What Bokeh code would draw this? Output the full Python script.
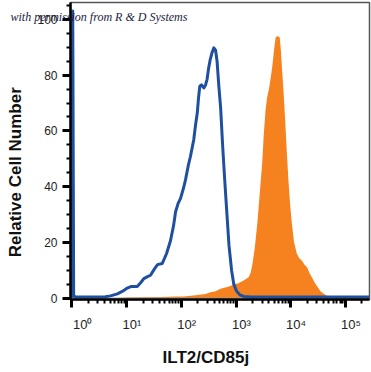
from bokeh.plotting import figure
from bokeh.models import FixedTicker, SingleIntervalTicker, Range1d, Title
from bokeh.embed import file_html
from bokeh.resources import INLINE

# ---- data ----
# control (blue line): fluorescence intensity and relative cell number
ctrl_x = [1.0, 1.04, 1.08, 1.15, 2.0, 4.1, 5.1, 6.8, 8.5, 10.3, 12.3, 15.7, 18.1, 20.7, 24.2,
          27.4, 32.4, 36.8, 44.8, 53.9, 63.5, 72.3, 78.7, 87.6, 97.0, 110, 119.7, 135.7,
          147, 169, 182, 196, 207, 218, 235, 258, 278, 296, 316, 338, 364, 394, 423, 451,
          486, 523, 569, 619, 673, 744, 830, 911, 1025, 1170, 1380, 1850, 270000]
ctrl_y = [0, 103, 1.0, 0.4, 0.4, 0.5, 0.8, 1.5, 2.5, 3.6, 4.2, 4.2, 5.5, 7.0, 7.7,
          8.2, 10.5, 12.0, 12.4, 16.0, 20.6, 26.0, 31.0, 34.0, 35.8, 39.5, 42.5, 48.0,
          50.8, 56.8, 62.0, 66.4, 72.0, 76.0, 76.5, 75.4, 76.5, 78.5, 82.5, 85.6, 88.0, 89.8, 89.0, 85.0,
          76.0, 68.5, 55.0, 43.0, 32.0, 19.0, 10.0, 5.0, 2.5, 1.2, 0.6, 0.4, 0.4]

# ILT2/CD85j stained (orange fill)
stain_x = [6.8, 10, 18, 42, 79, 110, 182, 278, 340, 423, 523, 642, 790, 900, 1100, 1380,
           1700, 1850, 2000, 2200, 2450, 2700, 3000, 3200, 3450, 3700, 4000, 4300, 4600,
           4950, 5300, 5750, 6300, 6600, 6900, 7400, 7900, 8450, 9100, 9800, 10500, 11500,
           12900, 14100, 15900, 17900, 20000, 22000, 25000, 27500, 31000, 35000, 40000,
           47000, 53000, 65000]
stain_y = [0, 0.2, 0.3, 0.4, 0.6, 0.6, 1.0, 1.5, 2.1, 2.5, 3.4, 3.8, 4.3, 4.9, 5.3, 6.3,
           7.5, 9.0, 12.3, 18.0, 26.7, 37.0, 48.0, 58.0, 67.0, 72.0, 75.0, 79.0, 83.0,
           89.0, 93.5, 94.0, 93.5, 89.0, 83.0, 74.0, 64.0, 53.0, 42.0, 33.0, 26.7, 20.0,
           16.0, 14.5, 13.5, 12.0, 11.0, 9.0, 7.0, 5.5, 4.0, 2.5, 1.6,
           0.8, 0.4, 0.0]

NB = "\u00a0"
x_major = [1, 10, 100, 1000, 10000, 100000]
x_labels = [NB * 6 + "10\u2070", NB * 3 + "10\u00b9", NB * 3 + "10\u00b2",
            NB * 3 + "10\u00b3", NB * 3 + "10\u2074", NB * 3 + "10\u2075"]

x_title = "ILT2/CD85j"
y_title = "Relative Cell Number"
credit = "with permission from R & D Systems"

BLUE = "#1f50a0"
ORANGE = "#f5821f"
FONT = "Liberation Sans"

p = figure(width=371, height=372, output_backend="svg", toolbar_location=None,
           x_axis_type="log",
           x_range=Range1d(0.946, 275000), y_range=Range1d(-0.5, 106.06),
           min_border_left=70, min_border_right=2, min_border_top=2, min_border_bottom=73)

p.background_fill_color = "white"
p.border_fill_color = "white"
p.outline_line_color = "#555555"
p.outline_line_width = 1.5
p.grid.visible = False

p.varea(x=stain_x, y1=[0] * len(stain_x), y2=stain_y, fill_color=ORANGE, fill_alpha=1.0)
p.line(x=[1, 275000], y=[0, 0], line_color="#9a9a9a", line_width=1)
p.line(x=ctrl_x, y=ctrl_y, line_color=BLUE, line_width=3, line_join="round")

minor = []
for d in range(0, 6):
    for m in range(2, 10):
        v = m * 10 ** d
        if v < 275000:
            minor.append(v)

xa = p.xaxis[0]
xa.ticker = FixedTicker(ticks=x_major, minor_ticks=minor)
xa.major_label_overrides = {v: s for v, s in zip(x_major, x_labels)}

ya = p.yaxis[0]
ya.ticker = SingleIntervalTicker(interval=20, num_minor_ticks=4)

for ax in (xa, ya):
    ax.axis_line_color = "black"
    ax.axis_line_width = 2.5
    ax.major_tick_line_color = "black"
    ax.major_tick_line_width = 3
    ax.major_tick_out = 8
    ax.major_tick_in = 0
    ax.minor_tick_line_color = "black"
    ax.minor_tick_line_width = 2
    ax.minor_tick_out = 4
    ax.minor_tick_in = 0
    ax.major_label_text_font = FONT
    ax.major_label_text_color = "#222222"
    ax.axis_label_text_font = FONT
    ax.axis_label_text_font_style = "bold"
    ax.axis_label_text_font_size = "17px"
    ax.axis_label_text_color = "#111111"

ya.major_label_text_font_size = "12px"
ya.major_label_standoff = 5
xa.major_label_text_font_size = "13px"
xa.major_label_standoff = 9

xa.axis_label = x_title + NB * 6
xa.axis_label_standoff = 13
ya.axis_label = y_title + NB * 9
ya.axis_label_standoff = 9

p.add_layout(Title(text=credit, align="left", offset=-60, standoff=-42,
                   vertical_align="bottom",
                   text_font="Liberation Serif", text_font_style="italic",
                   text_font_size="12px", text_color="#1c1c40"), "above")

open("out.html", "w").write(file_html(p, INLINE))
